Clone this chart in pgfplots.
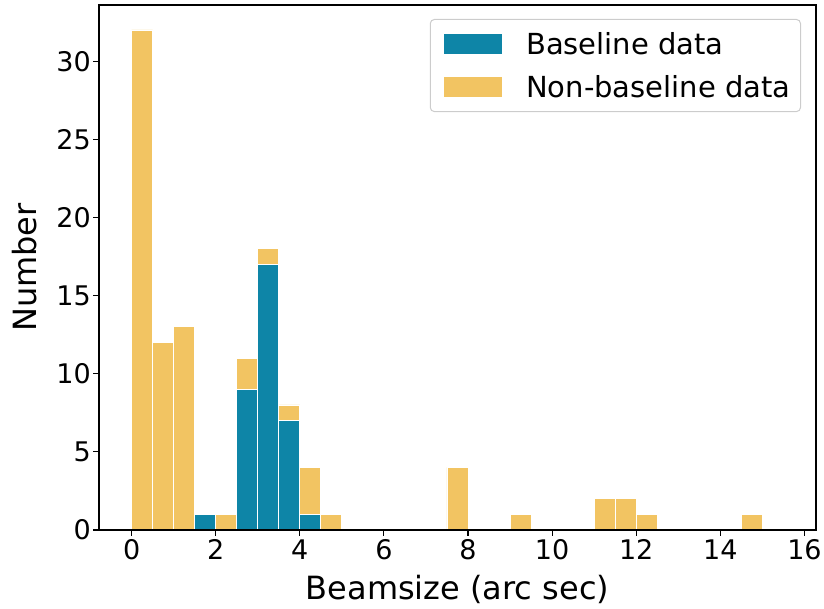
\documentclass[border=0pt]{standalone}
\usepackage{fontspec}
\setmainfont{DejaVu Sans}
\usepackage{pgfplots}
\pgfplotsset{compat=1.18}
\definecolor{basec}{RGB}{14,133,167}
\definecolor{nonc}{RGB}{242,196,98}

\begin{document}
\begin{tikzpicture}
\begin{axis}[
    scale only axis,
    width=717pt, height=525pt,
    xmin=-0.775, xmax=16.275,
    ymin=0, ymax=33.6,
    ybar stacked, bar width=0.5,
    xtick={0,2,...,16},
    ytick={0,5,...,30},
    tick align=outside,
    xtick pos=bottom, ytick pos=left,
    major tick length=6pt,
    every tick/.style={black, line width=1.1pt},
    axis line style={line width=1.1pt},
    /pgf/number format/assume math mode=true,
    ticklabel style={font=\fontsize{27}{32}\selectfont},
    yticklabel style={inner xsep=2pt},
    xlabel={Beamsize (arc sec)},
    ylabel={Number},
    label style={font=\fontsize{32}{38}\selectfont},
    xlabel style={at={(axis description cs:0.5,-0.1333)}, anchor=base},
    ylabel style={at={(axis description cs:-0.0865,0.5)}, anchor=base},
    legend style={at={(axis description cs:1,1)}, anchor=north east,
        xshift=-15pt, yshift=-14pt,
        draw=black!20, rounded corners=4pt, line width=1pt,
        font=\fontsize{29}{34}\selectfont,
        inner xsep=8pt, inner ysep=11pt, row sep=15pt,
        /tikz/every odd column/.append style={column sep=22pt}},
    legend cell align=left,
    axis on top,
]
% bin centres (bin width 0.5), baseline counts
\addplot[fill=basec, draw=white, line width=0.9pt,
    legend image code/.code={\path (0pt,0pt); \fill[basec, sharp corners] (6pt,-9.5pt) rectangle (63pt,9.5pt);}]
coordinates {
    (0.25,0) (0.75,0) (1.25,0) (1.75,1) (2.25,0) (2.75,9) (3.25,17) (3.75,7)
    (4.25,1) (4.75,0) (7.75,0) (9.25,0) (11.25,0) (11.75,0) (12.25,0) (14.75,0)
};
% non-baseline counts, stacked on top
\addplot[fill=nonc, draw=white, line width=0.9pt,
    legend image code/.code={\path (0pt,0pt); \fill[nonc, sharp corners] (6pt,-9.5pt) rectangle (63pt,9.5pt);}]
coordinates {
    (0.25,32) (0.75,12) (1.25,13) (1.75,0) (2.25,1) (2.75,2) (3.25,1) (3.75,1)
    (4.25,3) (4.75,1) (7.75,4) (9.25,1) (11.25,2) (11.75,2) (12.25,1) (14.75,1)
};
\legend{Baseline data, Non-baseline data}
\end{axis}
\pgfresetboundingbox
\path ([shift={(-99pt,-79pt)}]current axis.south west)
    rectangle ([shift={(8pt,5pt)}]current axis.north east);
\end{tikzpicture}
\end{document}
